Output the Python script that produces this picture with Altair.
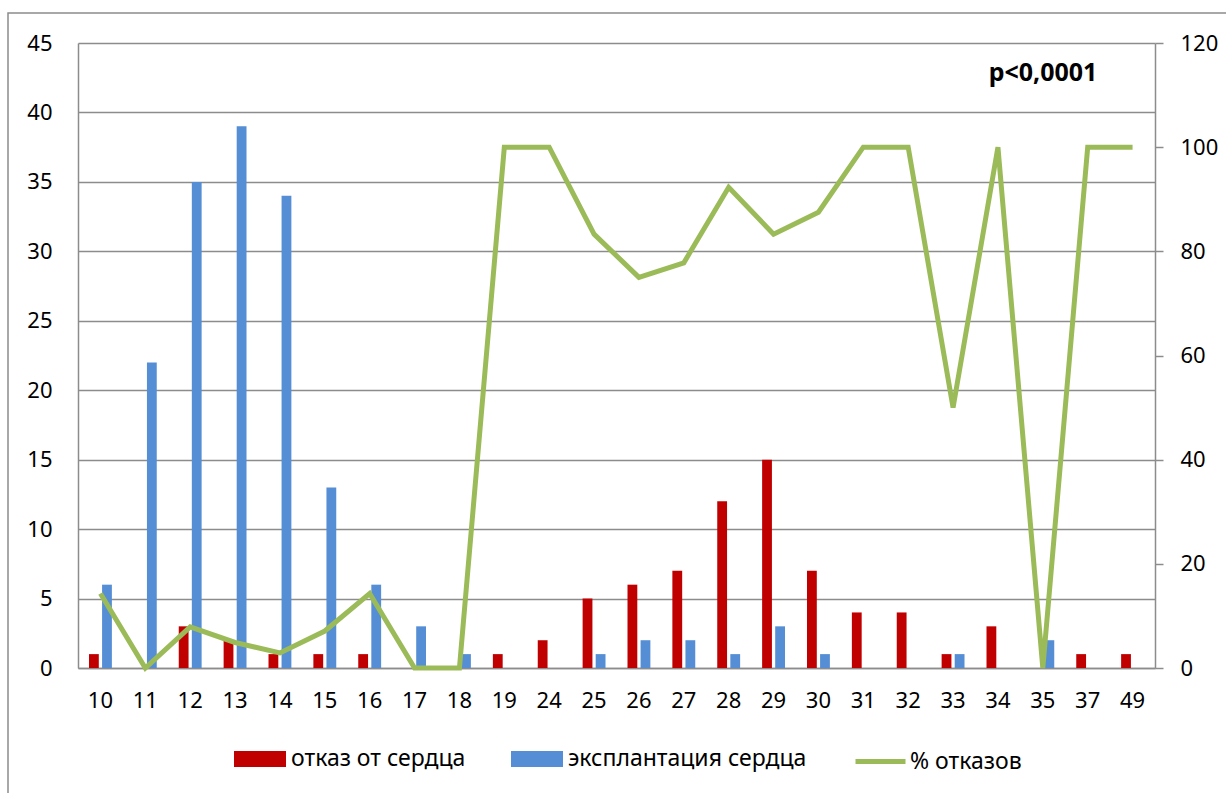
import altair as alt
import pandas as pd

# Категории (размер) и значения рядов
categories = ["10", "11", "12", "13", "14", "15", "16", "17", "18", "19", "24", "25",
              "26", "27", "28", "29", "30", "31", "32", "33", "34", "35", "37", "49"]
refused = [1, 0, 3, 2, 1, 1, 1, 0, 0, 1, 2, 5, 6, 7, 12, 15, 7, 4, 4, 1, 3, 0, 1, 1]
explanted = [6, 22, 35, 39, 34, 13, 6, 3, 1, 0, 0, 1, 2, 2, 1, 3, 1, 0, 0, 1, 0, 2, 0, 0]
refused_pct = [14.3, 0, 7.9, 4.9, 2.9, 7.1, 14.3, 0, 0, 100, 100, 83.3, 75, 77.8, 92.3,
               83.3, 87.5, 100, 100, 50, 100, 0, 100, 100]

series_names = ["отказ от сердца", "эксплантация сердца"]
series_colors = ["#C00000", "#558ED5"]
line_name = "% отказов"
line_color = "#9BBB59"
p_label = "p<0,0001"

FONT = "Noto Sans"
GRID = "#8c8c8c"

bars_df = pd.DataFrame(
    [{"cat": c, "series": series_names[0], "value": v} for c, v in zip(categories, refused)]
    + [{"cat": c, "series": series_names[1], "value": v} for c, v in zip(categories, explanted)]
)
line_df = pd.DataFrame({"cat": categories, "pct": refused_pct, "name": line_name})

x_enc = alt.X(
    "cat:N",
    sort=categories,
    scale=alt.Scale(paddingInner=0.49, paddingOuter=0.245),
    axis=alt.Axis(
        title=None, labelAngle=0, ticks=False, tickSize=0, labelPadding=22,
        domainColor=GRID, domainWidth=1.5, grid=False,
    ),
)

bars = alt.Chart(bars_df).mark_bar().encode(
    x=x_enc,
    xOffset=alt.XOffset("series:N", sort=series_names,
                        scale=alt.Scale(paddingInner=0.25, paddingOuter=0)),
    y=alt.Y(
        "value:Q",
        scale=alt.Scale(domain=[0, 45], nice=False),
        axis=alt.Axis(
            title=None, values=list(range(0, 46, 5)), grid=True, gridColor=GRID,
            gridWidth=1.5, ticks=False, tickSize=0, labelPadding=26,
            domainColor=GRID, domainWidth=1.5,
        ),
    ),
    color=alt.Color(
        "series:N",
        scale=alt.Scale(domain=series_names, range=series_colors),
        legend=alt.Legend(
            title=None, orient="none", legendX=156, legendY=690,
            direction="horizontal", symbolType="M-1,-0.31H1V0.31H-1Z",
            symbolSize=2704, symbolStrokeWidth=0, labelFontSize=23, labelFont=FONT,
            labelColor="black", labelOffset=5, labelLimit=400, columnPadding=45,
            padding=0,
        ),
    ),
)

line = alt.Chart(line_df).mark_line(strokeWidth=5).encode(
    x=x_enc,
    y=alt.Y(
        "pct:Q",
        scale=alt.Scale(domain=[0, 120], nice=False),
        axis=alt.Axis(
            title=None, orient="right", values=list(range(0, 121, 20)), grid=False,
            ticks=True, tickSize=8, tickColor=GRID, tickWidth=1.5, labelPadding=17,
            domainColor=GRID, domainWidth=1.5,
        ),
    ),
    color=alt.Color(
        "name:N",
        scale=alt.Scale(domain=[line_name], range=[line_color]),
        legend=alt.Legend(
            title=None, orient="none", legendX=775, legendY=691,
            direction="horizontal", symbolType="M-1,0H1", symbolSize=2500,
            symbolStrokeWidth=5, labelFontSize=23, labelFont=FONT, labelColor="black",
            labelOffset=2, labelLimit=400, padding=0,
        ),
    ),
)

# Рамка вокруг всей диаграммы
frame = alt.Chart(pd.DataFrame({"k": [0]})).mark_rect(
    fillOpacity=0, stroke=GRID, strokeWidth=1.5
).encode(
    x=alt.value(-70), x2=alt.value(1170), y=alt.value(-30), y2=alt.value(760)
)

p_text = alt.Chart(pd.DataFrame({"t": [p_label]})).mark_text(
    font=FONT, fontSize=25, fontWeight="bold", color="black", align="center",
    baseline="middle"
).encode(text="t:N", x=alt.value(965), y=alt.value(30))

chart = (
    alt.layer(frame, bars, line, p_text)
    .resolve_scale(y="independent", color="independent")
    .properties(
        width=1077, height=625,
        autosize=alt.AutoSizeParams(type="none"),
        padding={"left": 78, "top": 43, "right": 71, "bottom": 125},
        background="white",
    )
    .configure_view(stroke=None)
    .configure_axis(labelFont=FONT, labelFontSize=22, labelColor="black")
)

chart.save("out.html", embed_options={"renderer": "svg", "actions": False})
